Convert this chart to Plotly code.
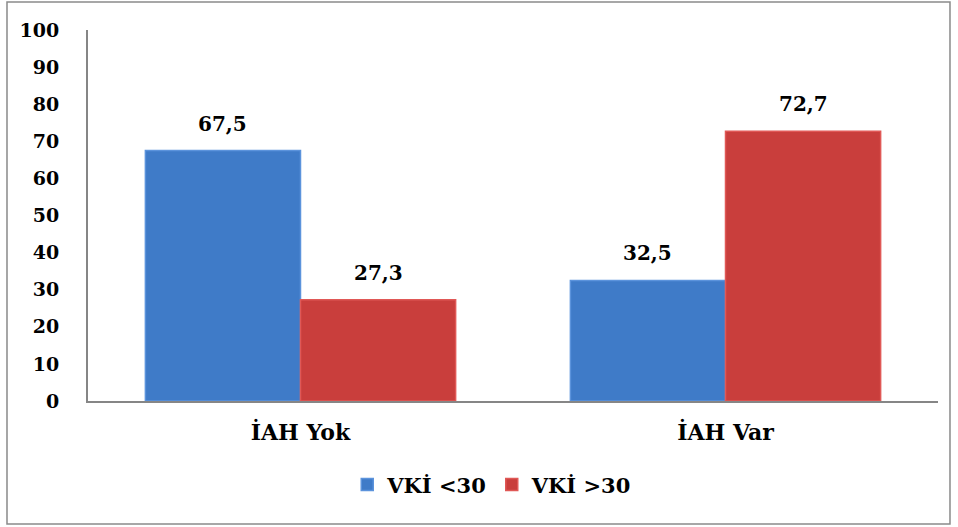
import plotly.graph_objects as go

categories = ["İAH Yok", "İAH Var"]
series_names = ["VKİ <30", "VKİ >30"]
vki_lt30 = [67.5, 32.5]
vki_gt30 = [27.3, 72.7]
y_ticks = [0, 10, 20, 30, 40, 50, 60, 70, 80, 90, 100]

colors = ["#3f7bc8", "#c93e3c"]
line_colors = ["#5b93dc", "#e05856"]
FONT = "DejaVu Serif"

fig = go.Figure()
for name, vals, c, lc in zip(series_names, [vki_lt30, vki_gt30], colors, line_colors):
    fig.add_trace(go.Bar(
        name="<b>" + name + "</b>", x=categories, y=vals,
        marker=dict(color=c, line=dict(color=lc, width=1.5)),
    ))

offsets = [-0.1825, 0.1825]
for i, vals in enumerate([vki_lt30, vki_gt30]):
    for j, v in enumerate(vals):
        fig.add_annotation(
            x=j + offsets[i], y=v, xref="x", yref="y",
            text="<b>" + f"{v:.1f}".replace(".", ",") + "</b>",
            showarrow=False, yanchor="bottom", yshift=13,
            font=dict(family=FONT, size=20, color="black"),
        )

fig.update_layout(
    width=958, height=527,
    margin=dict(l=88, r=20, t=30, b=126),
    paper_bgcolor="white", plot_bgcolor="white",
    barmode="group", bargap=0.27, bargroupgap=0,
    font=dict(family=FONT, size=20, color="black"),
    showlegend=True,
    legend=dict(orientation="h", x=0.475, xanchor="center", y=-0.226, yanchor="middle",
                font=dict(family=FONT, size=21, color="black"), itemwidth=30,
                traceorder="normal"),
    shapes=[dict(type="rect", xref="paper", yref="paper",
                 x0=-0.0953, x1=1.0141, y0=-0.3315, y1=1.0755,
                 line=dict(color="#8a8a8a", width=1.5), fillcolor="rgba(0,0,0,0)")],
)

fig.update_xaxes(
    type="category", showline=True, linecolor="#868686", linewidth=2,
    showgrid=False, ticks="", ticklabelstandoff=11,
    tickfont=dict(family=FONT, size=22, color="black"),
    ticktext=["<b>" + c + "</b>" for c in categories], tickvals=categories,
)
fig.update_yaxes(
    range=[0, 100], showline=True, linecolor="#868686", linewidth=2,
    showgrid=False, zeroline=False, ticks="",
    tickvals=y_ticks, ticktext=["<b>%d</b>" % t for t in y_ticks],
    ticklabelstandoff=23,
    tickfont=dict(family=FONT, size=19, color="black"),
)

fig.write_html("out.html")
